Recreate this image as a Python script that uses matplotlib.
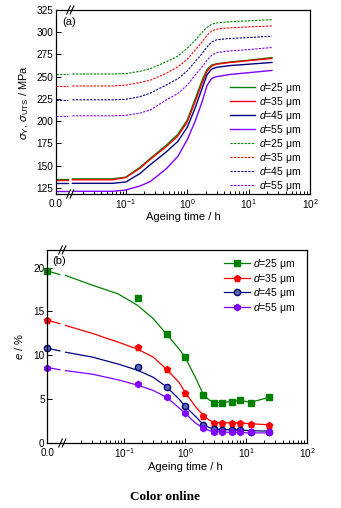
import matplotlib.pyplot as plt
from matplotlib.lines import Line2D
from matplotlib.ticker import FixedLocator, LogLocator, NullFormatter

plt.rcParams['font.family'] = ['Liberation Sans', 'DejaVu Sans']
plt.rcParams['mathtext.fontset'] = 'custom'
plt.rcParams['mathtext.rm'] = 'Liberation Sans'
plt.rcParams['mathtext.it'] = 'Liberation Sans:italic'
plt.rcParams['mathtext.bf'] = 'Liberation Sans:bold'
plt.rcParams['mathtext.sf'] = 'Liberation Sans'

W, H = 341, 508                                   # figure size in pixels

##################
####   Data   ####
##################

sizes = ['25', '35', '45', '55']                  # grain size d in um
colours = ['#008000', '#ff0000', '#000080', '#8000ff']

# (a) yield and tensile strength vs ageing time (MPa)
t_sig = [0.0135, 0.06, 0.1, 0.17, 0.25, 0.45, 0.7, 1.0, 1.35, 1.75, 2.1, 2.5, 3.0, 5.0, 10.0, 24.0]
sigY_0 = [135, 134, 130, 121]                     # value at t = 0
sigY = [
    [135, 135, 137, 148, 158, 172.5, 185, 201, 225, 246, 258, 263, 264.5, 266.5, 268.5, 271.5],
    [134, 134, 136.5, 147, 157, 171, 183, 199, 222, 243, 256, 262, 264, 266, 268, 270.5],
    [130, 130, 131.5, 141, 151, 165, 177, 193, 215, 237, 252, 258.5, 260.5, 262.5, 264, 266],
    [121, 121, 122.5, 127, 132, 146, 160, 179, 200, 222, 240, 248, 250, 252.5, 254.5, 257],
]
sigUTS_0 = [253, 239.5, 224, 206]
sigUTS = [
    [253, 253, 253.5, 256, 259, 266.5, 273, 282, 291, 300, 305.5, 309, 310.5, 311.8, 312.8, 314.2],
    [239.5, 239.5, 240.5, 243.5, 246, 253.5, 261, 269.5, 280, 289, 296.5, 301.5, 303.5, 305, 306, 307],
    [224, 224, 224.5, 227.5, 231.5, 240.5, 247.5, 256.5, 267, 276, 283.5, 289, 291.5, 293, 294, 295.5],
    [206, 206, 206.5, 209, 212.5, 223.5, 231, 240.5, 252, 261, 268.5, 274, 277, 279, 280.5, 282.8],
]

# (b) elongation vs ageing time (%)
t_e = [0, 1/6, 0.5, 1, 2, 3, 4, 6, 8, 12, 24]
e_meas = [
    [19.6, 16.5, 12.4, 9.8, 5.5, 4.6, 4.6, 4.7, 4.9, 4.6, 5.2],
    [14.0, 10.9, 8.4, 5.7, 3.1, 2.3, 2.3, 2.3, 2.3, 2.2, 2.1],
    [10.8, 8.7, 6.4, 4.2, 2.1, 1.6, 1.5, 1.5, 1.5, 1.3, 1.3],
    [8.6, 6.7, 5.3, 3.4, 1.7, 1.3, 1.3, 1.2, 1.2, 1.2, 1.2],
]
e_left_end = [19.2, 13.6, 10.5, 8.35]             # fitted line where it meets the axis break
t_fit = [0.011, 0.03, 0.08, 0.166, 0.3, 0.5, 0.8, 1.0, 1.5, 2.0, 2.5, 3.0, 4.0, 6.0, 8.0, 12.0, 24.0]
e_fit = [
    [19.1, 18.0, 17.0, 15.7, 14.2, 12.4, 10.7, 9.8, 7.4, 5.5, 4.9, 4.65, 4.6, 4.75, 4.85, 4.65, 5.2],
    [13.4, 12.5, 11.5, 10.7, 9.8, 8.4, 6.9, 5.8, 4.1, 3.15, 2.6, 2.35, 2.3, 2.3, 2.28, 2.2, 2.07],
    [10.35, 9.8, 9.0, 8.3, 7.5, 6.4, 5.0, 4.2, 3.0, 2.1, 1.75, 1.6, 1.55, 1.5, 1.48, 1.4, 1.35],
    [8.25, 7.85, 7.2, 6.6, 6.0, 5.2, 4.0, 3.4, 2.25, 1.7, 1.4, 1.28, 1.25, 1.2, 1.18, 1.15, 1.15],
]
markers = ['s', 'p', 'o', 'h']
face = ['#008000', '#ff0000', '#5a6aa8', '#8000ff']

###################
#### Functions ####
###################

def fx(x):
    return x / W

def fy(y):
    return 1 - y / H


def broken_axes(left, top, right, bottom, brk, xmin):
    '''
    Short linear axis that holds t = 0, then a log axis from the break on.
    '''
    b = fy(bottom)
    h = (bottom - top) / H
    ax0 = fig.add_axes([fx(left), b, fx(brk - left), h])
    ax1 = fig.add_axes([fx(brk), b, fx(right - brk), h], sharey=ax0)
    for ax in (ax0, ax1):
        for s in ax.spines.values():
            s.set_linewidth(0.9)
        ax.tick_params(which='both', direction='in', labelsize=7.2, width=0.7,
                       top=False, right=False, pad=2)
        ax.tick_params(which='major', length=3.5)
        ax.tick_params(which='minor', length=2)
    ax0.spines['right'].set_visible(False)
    ax1.spines['left'].set_visible(False)
    ax0.set_xlim(0, 1)
    ax0.set_xticks([0])
    ax0.set_xticklabels(['0.0'])
    ax0.tick_params(axis='x', pad=3.5)
    ax1.set_xscale('log')
    ax1.set_xlim(xmin, 100)
    ax1.xaxis.set_major_locator(FixedLocator([0.1, 1, 10, 100]))
    ax1.xaxis.set_minor_locator(LogLocator(base=10, subs=range(2, 10)))
    ax1.xaxis.set_minor_formatter(NullFormatter())
    ax1.tick_params(which='both', left=False, labelleft=False)
    # the // marks on the top and bottom spines
    for y in (top, bottom):
        for dx in (-2.5, 1.0):
            fig.add_artist(Line2D([fx(brk + dx - 1.8), fx(brk + dx + 1.8)],
                                  [fy(y + 4), fy(y - 4)], color='black', lw=0.8))
    return ax0, ax1


#######################
#### Main Program #####
#######################

fig = plt.figure(figsize=(W / 100, H / 100), dpi=100)

# (a) strength
a0, a1 = broken_axes(56, 10, 310, 194, 71, 0.0128)
a0.set_ylim(118, 325)
a0.set_yticks(range(125, 326, 25))
handles = []
for i in range(4):
    a0.plot([0, 0.8], [sigY_0[i], sigY_0[i]], color=colours[i], lw=1.0)
    a1.plot(t_sig, sigY[i], color=colours[i], lw=1.0)
    handles.append(Line2D([], [], color=colours[i], lw=1.0))
for i in range(4):
    a0.plot([0, 0.8], [sigUTS_0[i], sigUTS_0[i]], color=colours[i], lw=0.8, ls=(0, (2, 1.2)))
    a1.plot(t_sig, sigUTS[i], color=colours[i], lw=0.8, ls=(0, (2, 1.2)))
    handles.append(Line2D([], [], color=colours[i], lw=0.8, ls=(0, (2, 1.2))))
labels = [r'$d$=' + s + ' μm' for s in sizes] * 2
a1.legend(handles, labels, loc='upper left', bbox_to_anchor=(fx(230), fy(81)),
          bbox_transform=fig.transFigure, frameon=False, fontsize=7.5,
          handlelength=2.4, handletextpad=0.4, labelspacing=0.0,
          borderpad=0, borderaxespad=0)
a0.set_ylabel(r'$\sigma_{\rm Y}$, $\sigma_{\rm UTS}$ / MPa', fontsize=8, labelpad=4)
fig.text(fx(62), fy(22), '(a)', fontsize=8, ha='left', va='center')
fig.text(fx(183), fy(217), 'Ageing time / h', fontsize=8, ha='center', va='center')

# (b) elongation
b0, b1 = broken_axes(47.5, 250, 307, 443, 63, 0.01)
b0.set_ylim(0, 22)
b0.set_yticks([0, 5, 10, 15, 20])
handles = []
for i in range(4):
    b0.plot([0, 0.8], [e_meas[i][0], e_left_end[i]], color=colours[i], lw=0.9)
    b0.plot(t_e[0], e_meas[i][0], ls='none', marker=markers[i], ms=4.5,
            mfc=face[i], mec=colours[i], clip_on=False)
    b1.plot(t_fit, e_fit[i], color=colours[i], lw=0.9)
    b1.plot(t_e[1:], e_meas[i][1:], ls='none', marker=markers[i], ms=4.5,
            mfc=face[i], mec=colours[i], clip_on=False)
    handles.append(Line2D([], [], color=colours[i], lw=0.9, marker=markers[i],
                          ms=4.5, mfc=face[i], mec=colours[i]))
b1.legend(handles, labels[:4], loc='upper left', bbox_to_anchor=(fx(224), fy(257)),
          bbox_transform=fig.transFigure, frameon=False, fontsize=7.5,
          handlelength=2.5, handletextpad=0.3, labelspacing=0.05,
          borderpad=0, borderaxespad=0)
b0.set_ylabel(r'$e$ / %', fontsize=8, labelpad=6)
fig.text(fx(52), fy(261), '(b)', fontsize=8, ha='left', va='center')
fig.text(fx(185), fy(467), 'Ageing time / h', fontsize=8, ha='center', va='center')

fig.text(fx(165), fy(497), 'Color online', fontsize=9.5, fontweight='bold',
         family=['Liberation Serif', 'DejaVu Serif'], ha='center', va='center')

fig.savefig('out.png', dpi=100)
